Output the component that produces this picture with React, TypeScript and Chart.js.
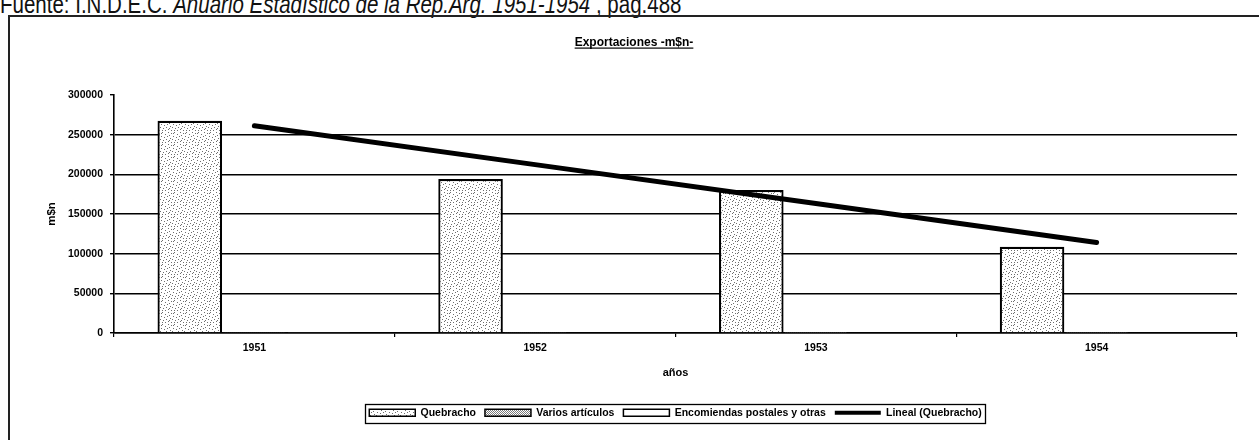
import React, { useEffect, useRef } from 'react';
import { Chart, registerables } from 'chart.js';

Chart.register(...registerables);

// ---- data ----
const categories = ['1951', '1952', '1953', '1954'];
const quebracho = [267600, 194100, 180300, 108800];
const variosArticulos = [600, 500, 400, 300];
const encomiendas = [1400, 1000, 900, 700];
const yTicks = [0, 50000, 100000, 150000, 200000, 250000, 300000];
const seriesNames = ['Quebracho', 'Varios artículos', 'Encomiendas postales y otras', 'Lineal (Quebracho)'];
const chartTitle = 'Exportaciones -m$n-';
const yTitle = 'm$n';
const xTitle = 'años';
const sourcePlain = 'Fuente: I.N.D.E.C. ';
const sourceItalic = 'Anuario Estadístico de la Rep.Arg. 1951-1954';
const sourceTail = ' , pág.488';

const FONT = '"Liberation Sans", Arial, Helvetica, sans-serif';

function linearTrend(values: number[]): number[] {
  const n = values.length;
  const xs = values.map((_, i) => i + 1);
  const mx = xs.reduce((a, b) => a + b, 0) / n;
  const my = values.reduce((a, b) => a + b, 0) / n;
  let num = 0;
  let den = 0;
  xs.forEach((x, i) => {
    num += (x - mx) * (values[i] - my);
    den += (x - mx) * (x - mx);
  });
  const slope = num / den;
  return xs.map((x) => my + slope * (x - mx));
}

function makePattern(ctx: CanvasRenderingContext2D, size: number, dots: number[][], color: string) {
  const c = document.createElement('canvas');
  c.width = size;
  c.height = size;
  const g = c.getContext('2d')!;
  g.fillStyle = '#ffffff';
  g.fillRect(0, 0, size, size);
  g.fillStyle = color;
  dots.forEach(([x, y]) => g.fillRect(x, y, 1, 1));
  return ctx.createPattern(c, 'repeat');
}

// stipple layouts for the bar fills (style only)
const stippleA = [
  [0, 0], [3, 1], [6, 0], [9, 2], [1, 3], [5, 4], [8, 5], [2, 6], [4, 7], [7, 8],
  [10, 7], [0, 9], [3, 10], [6, 10], [9, 10], [11, 4], [5, 1], [1, 8],
];
const stippleB = [[0, 0], [2, 0], [1, 1], [3, 1], [0, 2], [2, 2], [1, 3], [3, 3]];

const FRAME_LEFT = 8;
const FRAME_RIGHT = 1260;

const decorPlugin = {
  id: 'decor',
  afterDraw(chart: any) {
    const ctx = chart.ctx as CanvasRenderingContext2D;
    ctx.save();
    ctx.font = `bold 12px ${FONT}`;
    ctx.fillStyle = '#000';
    ctx.textAlign = 'center';
    ctx.textBaseline = 'alphabetic';
    const tx = (FRAME_LEFT + FRAME_RIGHT) / 2;
    const ty = 46;
    ctx.fillText(chartTitle, tx, ty);
    const w = ctx.measureText(chartTitle).width;
    ctx.fillRect(tx - w / 2, ty + 1.5, w, 1.2);
    const hb = chart.legend && chart.legend.legendHitBoxes;
    if (hb && hb.length) {
      let l = Infinity, r = -Infinity, t = Infinity, b = -Infinity;
      hb.forEach((h: any) => {
        l = Math.min(l, h.left);
        r = Math.max(r, h.left + h.width);
        t = Math.min(t, h.top);
        b = Math.max(b, h.top + h.height);
      });
      ctx.strokeStyle = '#000';
      ctx.lineWidth = 1.3;
      ctx.strokeRect(Math.round(l - 4) + 0.5, Math.round(t - 4) + 0.5, Math.round(r - l + 8), Math.round(b - t + 8));
    }
    ctx.restore();
  },
};

export default function App() {
  const ref = useRef<HTMLCanvasElement | null>(null);

  useEffect(() => {
    const canvas = ref.current;
    if (!canvas) return;
    const ctx = canvas.getContext('2d')!;
    const patA = makePattern(ctx, 12, stippleA, '#6e6e6e');
    const patB = makePattern(ctx, 4, stippleB, '#7a7a7a');
    const trend = linearTrend(quebracho);

    const barCommon = {
      type: 'bar' as const,
      borderColor: '#000',
      categoryPercentage: 0.69,
      barPercentage: 1,
      order: 1,
    };

    const chart = new Chart(ctx, {
      type: 'bar',
      data: {
        labels: categories,
        datasets: [
          { ...barCommon, label: seriesNames[0], data: quebracho, backgroundColor: patA as any, borderWidth: 2.2 },
          { ...barCommon, label: seriesNames[1], data: variosArticulos, backgroundColor: patB as any, borderWidth: 1.5 },
          { ...barCommon, label: seriesNames[2], data: encomiendas, backgroundColor: '#ffffff', borderWidth: 1.5 },
          {
            type: 'line' as const,
            label: seriesNames[3],
            data: trend,
            borderColor: '#000',
            backgroundColor: '#000',
            borderWidth: 5,
            borderCapStyle: 'round',
            pointRadius: 0,
            order: 0,
          } as any,
        ],
      },
      options: {
        animation: false,
        responsive: false,
        layout: { padding: { top: 95, right: 22, bottom: 12, left: 0 } },
        plugins: {
          title: { display: false },
          tooltip: { enabled: false },
          legend: {
            display: true,
            position: 'bottom',
            fullSize: false,
            labels: {
              usePointStyle: true,
              pointStyleWidth: 46,
              boxHeight: 7,
              padding: 9,
              color: '#000',
              font: { family: FONT, size: 10.5, weight: 'bold' },
              generateLabels: (ch: any) => {
                const items = Chart.defaults.plugins.legend.labels.generateLabels(ch);
                return items
                  .map((it: any) => ({
                    ...it,
                    pointStyle: it.datasetIndex === 3 ? 'line' : 'rect',
                    lineWidth: it.datasetIndex === 3 ? 4 : 1.5,
                    strokeStyle: '#000',
                  }))
                  .sort((a: any, b: any) => a.datasetIndex - b.datasetIndex);
              },
            },
          },
        },
        scales: {
          x: {
            afterFit: (s: any) => {
              s.height = 65.5;
            },
            grid: {
              display: true,
              offset: true,
              drawOnChartArea: false,
              drawTicks: true,
              tickLength: 4,
              color: '#000',
              lineWidth: 1.2,
            },
            border: { display: true, color: '#000', width: 1.6 },
            ticks: {
              color: '#000',
              padding: 5,
              maxRotation: 0,
              font: { family: FONT, size: 10.5, weight: 'bold' },
            },
            title: {
              display: true,
              text: xTitle,
              color: '#000',
              font: { family: FONT, size: 11, weight: 'bold' },
              padding: { top: 0, bottom: 19 },
            },
          },
          y: {
            min: 0,
            max: 300000,
            afterFit: (s: any) => {
              s.width = 114;
            },
            afterBuildTicks: (s: any) => {
              s.ticks = yTicks.map((v) => ({ value: v }));
            },
            grid: {
              display: true,
              drawTicks: true,
              tickLength: 4,
              lineWidth: 1.4,
              tickColor: '#000',
              color: (c: any) => (c.tick && c.tick.value === 300000 ? 'rgba(0,0,0,0)' : '#000'),
            },
            border: { display: true, color: '#000', width: 1.6 },
            ticks: {
              color: '#000',
              padding: 7,
              font: { family: FONT, size: 10.5, weight: 'bold' },
              callback: (v: any) => String(v),
            },
            title: {
              display: true,
              text: yTitle,
              color: '#000',
              font: { family: FONT, size: 11.5, weight: 'bold' },
              padding: { top: 45, bottom: 0 },
            },
          },
        },
      },
      plugins: [decorPlugin],
    } as any);

    return () => chart.destroy();
  }, []);

  return (
    <div
      style={{
        position: 'fixed',
        left: 0,
        top: 0,
        width: 1259,
        height: 440,
        overflow: 'hidden',
        background: '#ffffff',
      }}
    >
      <div
        style={{
          position: 'absolute',
          left: 0,
          top: -8,
          whiteSpace: 'nowrap',
          fontFamily: FONT,
          fontSize: 25,
          lineHeight: '25px',
          color: '#111',
          transform: 'scaleX(0.82)',
          transformOrigin: '0 0',
        }}
      >
        <span>{sourcePlain}</span>
        <i>{sourceItalic}</i>
        <span>{sourceTail}</span>
      </div>
      <div
        style={{
          position: 'absolute',
          left: FRAME_LEFT,
          top: 15,
          width: 1400,
          height: 600,
          border: '2px solid #222',
          boxSizing: 'border-box',
        }}
      />
      <canvas
        ref={ref}
        width={1259}
        height={440}
        style={{ position: 'absolute', left: 0, top: 0, width: 1259, height: 440 }}
      />
    </div>
  );
}
